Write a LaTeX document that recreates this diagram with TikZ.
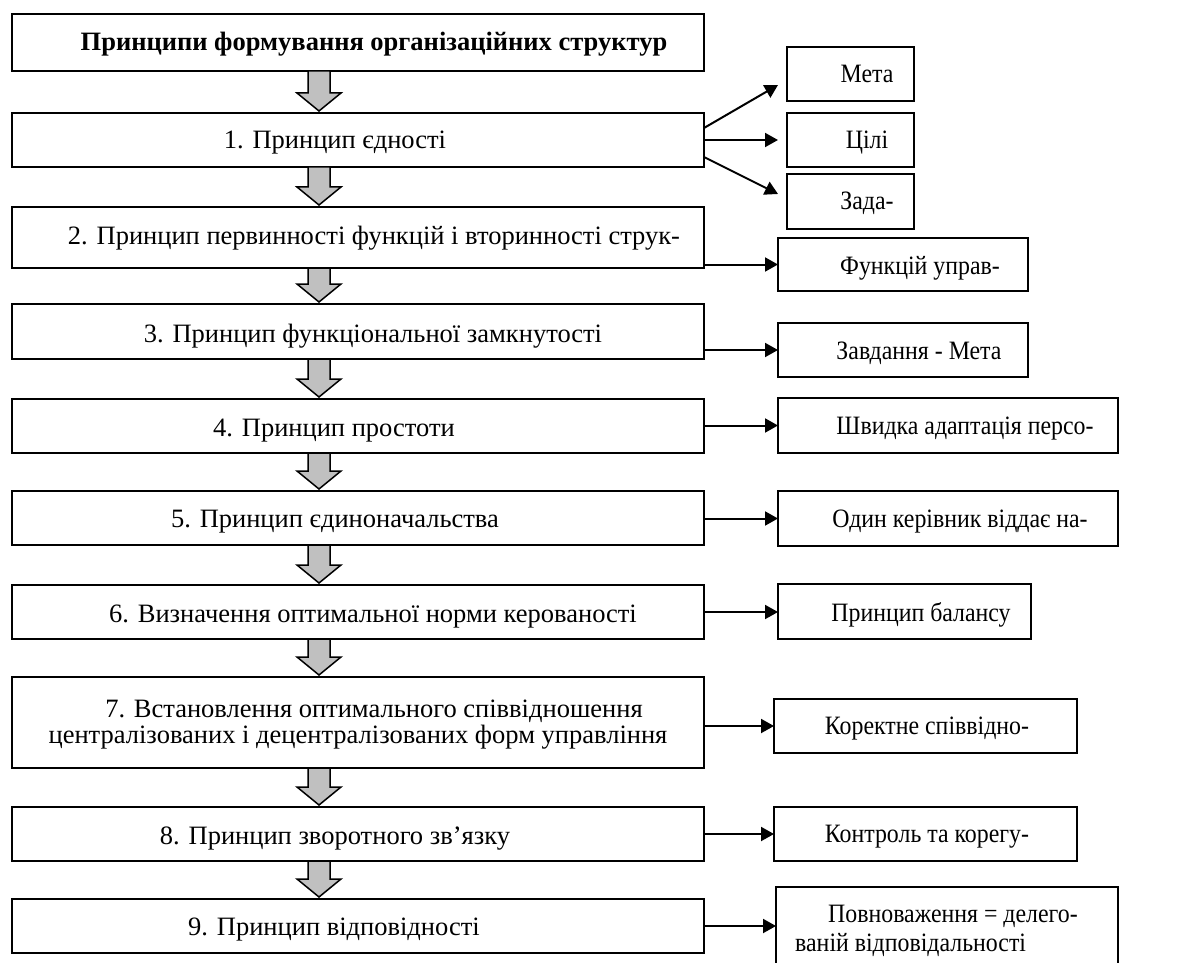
\documentclass[tikz,border=0pt]{standalone}
\usepackage{graphicx}
\usepackage{fontspec}
\setmainfont{Liberation Serif}
\usetikzlibrary{arrows.meta,calc}
\definecolor{arrowgray}{HTML}{C0C0C0}
\newcommand\narrowtext[1]{\scalebox{0.9}[1]{#1}}
\newcommand\blockarr[2]{%
  \draw[barrow] ($(ax |- #1.south)+(-11pt,0)$) -- ($(ax |- #2.north)+(-11pt,20pt)$)
    -- ($(ax |- #2.north)+(-22pt,20pt)$) -- ($(ax |- #2.north)+(0,2pt)$)
    -- ($(ax |- #2.north)+(22pt,20pt)$) -- ($(ax |- #2.north)+(11pt,20pt)$)
    -- ($(ax |- #1.south)+(11pt,0)$) -- cycle;}
\begin{document}
\begin{tikzpicture}[x=1pt,y=-1pt,
  box/.style={draw,line width=2pt,inner sep=0pt,outer sep=0pt},
  mainbox/.style={box,minimum width=692pt},
  txt/.style={inner sep=0pt,font=\fontsize{26.5}{30}\selectfont,anchor=base},
  ltxt/.style={txt,anchor=base west},
  conn/.style={line width=2pt,-{Triangle[length=13pt,width=14pt]}},
  barrow/.style={draw=black,line width=1.5pt,fill=arrowgray,line join=miter}]
\useasboundingbox (0,0) rectangle (1192,963);
\clip (0,0) rectangle (1192,963);
\coordinate (ax) at (319,0);
% main column
\node[mainbox,minimum height=57pt] (b0) at (358,42.5) {};
\node[mainbox,minimum height=54pt] (b1) at (358,140) {};
\node[mainbox,minimum height=61pt] (b2) at (358,237.5) {};
\node[mainbox,minimum height=55pt] (b3) at (358,331.5) {};
\node[mainbox,minimum height=54pt] (b4) at (358,426) {};
\node[mainbox,minimum height=54pt] (b5) at (358,518) {};
\node[mainbox,minimum height=54pt] (b6) at (358,612) {};
\node[mainbox,minimum height=91pt] (b7) at (358,722.5) {};
\node[mainbox,minimum height=54pt] (b8) at (358,834) {};
\node[mainbox,minimum height=54pt] (b9) at (358,926) {};
\node[txt,font=\fontsize{26.5}{30}\selectfont\bfseries] (t0) at (374,51) {Принципи формування організаційних структур};
\node[txt] (t1) at (335,149) {1. Принцип єдності};
\node[txt] (t2) at (374,244) {2. Принцип первинності функцій і вторинності струк-};
\node[txt] (t3) at (373,342) {3. Принцип функціональної замкнутості};
\node[txt] (t4) at (334,436) {4. Принцип простоти};
\node[txt] (t5) at (335,527) {5. Принцип єдиноначальства};
\node[txt] (t6) at (373,622) {6. Визначення оптимальної норми керованості};
\node[txt] (t7a) at (374,717) {7. Встановлення оптимального співвідношення};
\node[txt] (t7b) at (358,743.5) {централізованих і децентралізованих форм управління};
\node[txt] (t8) at (335,844) {8. Принцип зворотного зв’язку};
\node[txt] (t9) at (334,935.5) {9. Принцип відповідності};
% right column
\node[box,minimum width=127pt,minimum height=54pt] (meta) at (850.5,74) {};
\node[box,minimum width=127pt,minimum height=54pt] (cili) at (850.5,140) {};
\node[box,minimum width=127pt,minimum height=55pt] (zada) at (850.5,201.5) {};
\node[box,minimum width=250pt,minimum height=53pt] (func) at (903,264.5) {};
\node[box,minimum width=250pt,minimum height=54pt] (zavd) at (903,350) {};
\node[box,minimum width=340pt,minimum height=55pt] (shv) at (948,425.5) {};
\node[box,minimum width=340pt,minimum height=55pt] (odyn) at (948,518.5) {};
\node[box,minimum width=253pt,minimum height=55pt] (bal) at (904.5,611.5) {};
\node[box,minimum width=303pt,minimum height=54pt] (kor) at (925.5,726) {};
\node[box,minimum width=303pt,minimum height=54pt] (kontr) at (925.5,834) {};
\node[box,minimum width=342pt,minimum height=96pt] (povn) at (947,935) {};
\node[txt] (tmeta) at (867,83) {\narrowtext{Мета}};
\node[txt] (tcili) at (867,149) {\narrowtext{Цілі}};
\node[txt] (tzada) at (867,210) {\narrowtext{Зада-}};
\node[txt] (tfunc) at (920,274) {\narrowtext{Функцій управ-}};
\node[txt] (tzavd) at (919,359) {\narrowtext{Завдання - Мета}};
\node[txt] (tshv) at (965,434) {\narrowtext{Швидка адаптація персо-}};
\node[txt] (todyn) at (960,527) {\narrowtext{Один керівник віддає на-}};
\node[txt] (tbal) at (921,621.5) {\narrowtext{Принцип балансу}};
\node[txt] (tkor) at (927,734) {\narrowtext{Коректне співвідно-}};
\node[txt] (tkontr) at (927,842.5) {\narrowtext{Контроль та корегу-}};
\node[ltxt] (tpovna) at (828,922.5) {\narrowtext{Повноваження = делего-}};
\node[ltxt] (tpovnb) at (795,951.5) {\narrowtext{ваній відповідальності}};
% block arrows
\blockarr{b0}{b1}
\blockarr{b1}{b2}
\blockarr{b2}{b3}
\blockarr{b3}{b4}
\blockarr{b4}{b5}
\blockarr{b5}{b6}
\blockarr{b6}{b7}
\blockarr{b7}{b8}
\blockarr{b8}{b9}
% connectors
\draw[conn] ([yshift=12pt]b1.east) -- ([xshift=-9pt,yshift=-11pt]meta.west);
\draw[conn] (b1.east) -- ([xshift=-9pt]cili.west);
\draw[conn] ([yshift=-17pt]b1.east) -- ([xshift=-9pt,yshift=7.5pt]zada.west);
\draw[conn] (b2.east |- func.west) -- (func.west);
\draw[conn] (b3.east |- zavd.west) -- (zavd.west);
\draw[conn] (b4.east |- shv.west) -- (shv.west);
\draw[conn] (b5.east |- odyn.west) -- (odyn.west);
\draw[conn] (b6.east) -- (b6.east -| bal.west);
\draw[conn] (b7.east |- kor.west) -- (kor.west);
\draw[conn] (b8.east) -- (b8.east -| kontr.west);
\draw[conn] (b9.east) -- (b9.east -| povn.west);
\end{tikzpicture}
\end{document}
